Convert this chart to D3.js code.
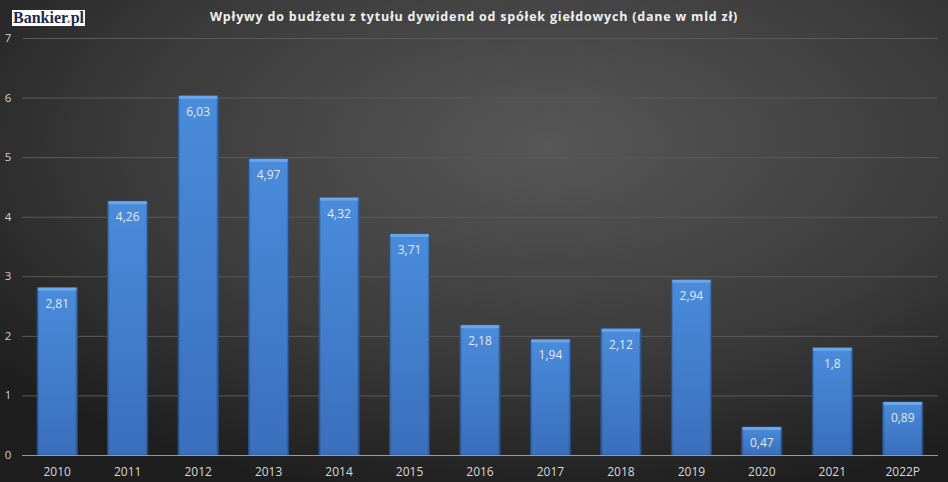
<!DOCTYPE html>
<html><head><meta charset="utf-8">
<script src="https://cdn.jsdelivr.net/npm/d3@7"></script>
<style>html,body{margin:0;padding:0;background:#2a2a2a;}svg{display:block;}</style>
</head><body>
<svg id="c" width="948" height="482"></svg>
<script>
const categories = ["2010","2011","2012","2013","2014","2015","2016","2017","2018","2019","2020","2021","2022P"];
const values = [2.81,4.26,6.03,4.97,4.32,3.71,2.18,1.94,2.12,2.94,0.47,1.8,0.89];
const labels = ["2,81","4,26","6,03","4,97","4,32","3,71","2,18","1,94","2,12","2,94","0,47","1,8","0,89"];
const yTicks = [0,1,2,3,4,5,6,7];
const title = "Wpływy do budżetu z tytułu dywidend od spółek giełdowych (dane w mld zł)";

const W=948,H=482;
const svg=d3.select("#c");
const defs=svg.append("defs");
const bg=defs.append("radialGradient").attr("id","bg").attr("cx","0.58").attr("cy","0.3").attr("r","0.75");
bg.append("stop").attr("offset","0").attr("stop-color","#575757");
bg.append("stop").attr("offset","0.6").attr("stop-color","#3a3a3a");
bg.append("stop").attr("offset","1").attr("stop-color","#1e1e1e");
const bar=defs.append("linearGradient").attr("id","bar").attr("x1",0).attr("y1",0).attr("x2",0).attr("y2",1);
bar.append("stop").attr("offset","0").attr("stop-color","#4a8cdb");
bar.append("stop").attr("offset","1").attr("stop-color","#3a6fbc");
const side=defs.append("linearGradient").attr("id","side").attr("x1",0).attr("y1",0).attr("x2",1).attr("y2",0);
side.append("stop").attr("offset","0").attr("stop-color","#000").attr("stop-opacity",0.25);
side.append("stop").attr("offset","0.06").attr("stop-color","#000").attr("stop-opacity",0);
side.append("stop").attr("offset","0.94").attr("stop-color","#000").attr("stop-opacity",0);
side.append("stop").attr("offset","1").attr("stop-color","#000").attr("stop-opacity",0.3);

svg.append("rect").attr("width",W).attr("height",H).attr("fill","url(#bg)");

const x=d3.scaleBand().domain(categories).range([22,938]).paddingInner(0.43).paddingOuter(0.215);
const y=d3.scaleLinear().domain([0,7]).range([455,38]);

// gridlines
svg.append("g").selectAll("line").data(yTicks.filter(d=>d>0)).join("line")
  .attr("x1",22).attr("x2",938).attr("y1",d=>y(d)+0.5).attr("y2",d=>y(d)+0.5)
  .attr("stroke","#5a5a5a").attr("stroke-width",1);

// y labels
svg.append("g").selectAll("text").data(yTicks).join("text")
  .attr("x",8).attr("y",d=>y(d)+4).attr("text-anchor","middle")
  .attr("fill","#d0d0d0").attr("font-family","Open Sans, sans-serif").attr("font-size",11.5)
  .text(d=>d);

// bars
const g=svg.append("g").selectAll("g").data(categories).join("g");
g.append("rect").attr("x",d=>x(d)).attr("width",x.bandwidth())
  .attr("y",(d,i)=>y(values[i])).attr("height",(d,i)=>y(0)-y(values[i]))
  .attr("fill","url(#bar)").attr("stroke","#2c5a9a").attr("stroke-width",0.8);
g.append("rect").attr("x",d=>x(d)).attr("width",x.bandwidth())
  .attr("y",(d,i)=>y(values[i])).attr("height",(d,i)=>y(0)-y(values[i]))
  .attr("fill","url(#side)");
g.append("rect").attr("x",d=>x(d)+1).attr("width",x.bandwidth()-2)
  .attr("y",(d,i)=>y(values[i])).attr("height",3)
  .attr("fill","#6aa6ea");
g.append("text").attr("x",d=>x(d)+x.bandwidth()/2).attr("y",(d,i)=>y(values[i])+20)
  .attr("text-anchor","middle").attr("fill","#e4e8f0")
  .attr("font-family","Open Sans, sans-serif").attr("font-size",12)
  .text((d,i)=>labels[i]);

// x axis
svg.append("line").attr("x1",22).attr("x2",938).attr("y1",y(0)+0.5).attr("y2",y(0)+0.5)
  .attr("stroke","#9a9a9a").attr("stroke-width",1.2);
svg.append("g").selectAll("text").data(categories).join("text")
  .attr("x",d=>x(d)+x.bandwidth()/2).attr("y",476).attr("text-anchor","middle")
  .attr("fill","#d8d8d8").attr("font-family","Open Sans, sans-serif").attr("font-size",12)
  .text(d=>d);

// title
svg.append("text").attr("x",474).attr("y",21).attr("text-anchor","middle")
  .attr("fill","#f0f0f0").attr("font-family","Open Sans, sans-serif").attr("font-weight","bold")
  .attr("font-size",12.5).attr("letter-spacing",0.8).text(title);

// logo
svg.append("rect").attr("x",12).attr("y",10).attr("width",73).attr("height",16).attr("fill","#ffffff");
const lt=svg.append("text").attr("x",13).attr("y",23).attr("font-family","Liberation Serif, serif")
  .attr("font-weight","bold").attr("font-size",16).attr("fill","#1b2a4a").attr("textLength",71).attr("lengthAdjust","spacingAndGlyphs");
lt.append("tspan").text("Bankier");
lt.append("tspan").attr("fill","#e8642c").text(".");
lt.append("tspan").text("pl");
</script>
</body></html>
